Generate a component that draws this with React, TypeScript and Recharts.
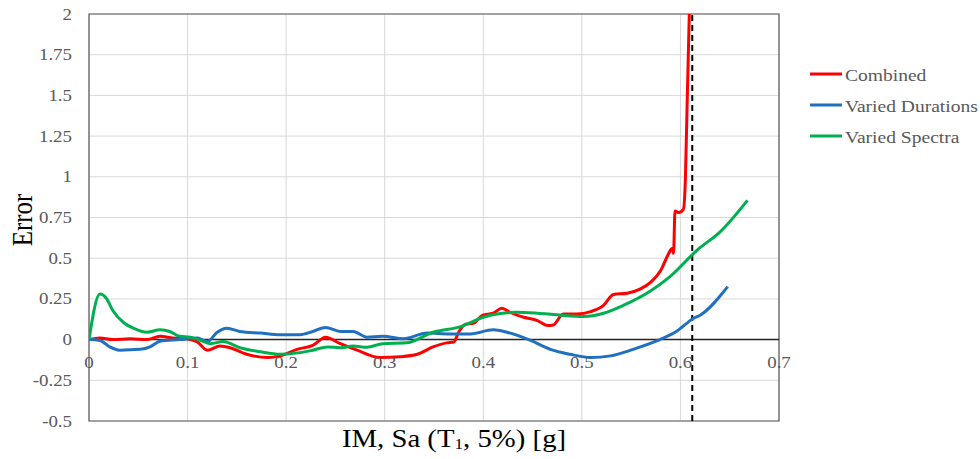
import {
  LineChart,
  Line,
  XAxis,
  YAxis,
  CartesianGrid,
  ReferenceLine,
  ReferenceArea,
} from "recharts";

// x values (IM, Sa in g) and error values
const combinedX = [0, 0.011, 0.024, 0.042, 0.059, 0.072, 0.085, 0.099, 0.11, 0.12, 0.133, 0.143, 0.16, 0.181, 0.194, 0.211, 0.227, 0.24, 0.255, 0.272, 0.295, 0.316, 0.333, 0.349, 0.363, 0.37, 0.375, 0.382, 0.39, 0.399, 0.41, 0.419, 0.427, 0.441, 0.455, 0.465, 0.471, 0.481, 0.495, 0.509, 0.522, 0.532, 0.546, 0.559, 0.57, 0.58, 0.588, 0.5915, 0.593, 0.5945, 0.598, 0.603, 0.605, 0.607, 0.609];
const combinedY = [0, 0.01, 0, 0.005, 0, 0.02, 0.01, 0.005, -0.015, -0.065, -0.04, -0.05, -0.09, -0.11, -0.1, -0.06, -0.035, 0.015, -0.025, -0.065, -0.11, -0.105, -0.09, -0.045, -0.02, -0.015, 0.045, 0.095, 0.1, 0.148, 0.162, 0.193, 0.168, 0.137, 0.117, 0.086, 0.09, 0.158, 0.158, 0.172, 0.21, 0.277, 0.285, 0.31, 0.353, 0.425, 0.528, 0.56, 0.53, 0.79, 0.78, 0.8, 0.98, 1.5, 2.0];

const durationsX = [0, 0.011, 0.021, 0.031, 0.052, 0.062, 0.072, 0.092, 0.11, 0.12, 0.13, 0.14, 0.153, 0.174, 0.194, 0.214, 0.227, 0.24, 0.255, 0.268, 0.282, 0.298, 0.319, 0.343, 0.366, 0.387, 0.41, 0.424, 0.448, 0.468, 0.488, 0.509, 0.529, 0.552, 0.577, 0.597, 0.613, 0.62, 0.648];
const durationsY = [0, -0.005, -0.045, -0.065, -0.06, -0.045, -0.01, 0, 0.01, -0.012, 0.045, 0.07, 0.05, 0.04, 0.03, 0.03, 0.05, 0.075, 0.05, 0.05, 0.015, 0.02, 0.005, 0.04, 0.035, 0.035, 0.06, 0.045, -0.005, -0.06, -0.09, -0.11, -0.1, -0.06, -0.005, 0.055, 0.13, 0.15, 0.325];

const spectraX = [0, 0.011, 0.018, 0.024, 0.035, 0.045, 0.059, 0.072, 0.082, 0.092, 0.103, 0.113, 0.123, 0.136, 0.153, 0.174, 0.194, 0.214, 0.227, 0.242, 0.255, 0.268, 0.282, 0.298, 0.322, 0.349, 0.377, 0.4, 0.417, 0.434, 0.455, 0.475, 0.502, 0.522, 0.542, 0.57, 0.59, 0.617, 0.64, 0.668];
const spectraY = [0, 0.28, 0.25, 0.18, 0.105, 0.07, 0.045, 0.06, 0.05, 0.02, 0.015, -0.005, -0.025, -0.012, -0.05, -0.075, -0.09, -0.08, -0.065, -0.045, -0.05, -0.04, -0.047, -0.025, -0.02, 0.045, 0.08, 0.137, 0.16, 0.168, 0.162, 0.152, 0.142, 0.162, 0.21, 0.3, 0.39, 0.55, 0.66, 0.855];

const xTicks = [0, 0.1, 0.2, 0.3, 0.4, 0.5, 0.6, 0.7];
const yTicks = [-0.5, -0.25, 0, 0.25, 0.5, 0.75, 1, 1.25, 1.5, 1.75, 2];
const limitX = 0.612;

const seriesNames = ["Combined", "Varied Durations", "Varied Spectra"];
const seriesColors = ["#ff0000", "#1f70c1", "#00b050"];

const toPoints = (xs: number[], ys: number[]) => xs.map((x, i) => ({ x, y: ys[i] }));

const FONT = "'Liberation Serif', 'Times New Roman', serif";
const CHART_W = 980;
const CHART_H = 459;
const PLOT_LEFT = 89;
const PLOT_RIGHT = 779;
const PLOT_TOP = 14;
const X_AXIS_H = 38;
const PLOT_BOTTOM = CHART_H - X_AXIS_H;
const Y_MIN = -0.5;
const Y_MAX = 2;
const ZERO_Y = PLOT_TOP + ((PLOT_BOTTOM - PLOT_TOP) * Y_MAX) / (Y_MAX - Y_MIN);
const STRETCH = 1.18;

const XTick = ({ x, payload }: any) => (
  <text
    transform={`translate(${x}, ${ZERO_Y + 28.5}) scale(${STRETCH}, 1)`}
    textAnchor="middle"
    style={{ fontFamily: FONT }}
    fontSize={16}
    fill="#595959"
  >
    {payload.value}
  </text>
);

const YTick = ({ y, payload }: any) => (
  <text
    transform={`translate(${PLOT_LEFT - 17}, ${y + 5.5}) scale(${STRETCH}, 1)`}
    textAnchor="end"
    style={{ fontFamily: FONT }}
    fontSize={16}
    fill="#595959"
  >
    {payload.value}
  </text>
);

const xTitle = () => (
  <text
    transform={`translate(454, 447) scale(1.15, 1)`}
    textAnchor="middle"
    style={{ fontFamily: FONT }}
    fontSize={25}
    fill="#000"
  >
    IM, Sa (T
    <tspan fontSize={15} dy={2}>1</tspan>
    <tspan dy={-2}>, 5%) [g]</tspan>
  </text>
);

const yTitle = () => (
  <text
    transform={`translate(32, 220) rotate(-90) scale(1, 1.15)`}
    textAnchor="middle"
    style={{ fontFamily: FONT }}
    fontSize={25}
    fill="#000"
  >
    Error
  </text>
);

const LegendBox = () => (
  <svg width={175} height={100} style={{ position: "absolute", left: 805, top: 55 }}>
    {seriesNames.map((name, i) => (
      <g key={name}>
        <line x1={5} x2={37} y1={19 + i * 31} y2={19 + i * 31} stroke={seriesColors[i]} strokeWidth={3} />
        <text
          transform={`translate(40, ${25.5 + i * 31}) scale(1.15, 1)`}
          style={{ fontFamily: FONT }}
          fontSize={17}
          fill="#595959"
        >
          {name}
        </text>
      </g>
    ))}
  </svg>
);

export default function App() {
  const lines = [
    toPoints(combinedX, combinedY),
    toPoints(durationsX, durationsY),
    toPoints(spectraX, spectraY),
  ];

  return (
    <div style={{ position: "absolute", left: 0, top: 0, width: CHART_W, height: CHART_H, background: "#fff" }}>
      <LineChart
        width={CHART_W}
        height={CHART_H}
        margin={{ top: PLOT_TOP, right: CHART_W - PLOT_RIGHT, bottom: 0, left: 0 }}
      >
        <CartesianGrid stroke="#d9d9d9" strokeWidth={1} />
        <XAxis
          type="number"
          dataKey="x"
          domain={[0, 0.7]}
          ticks={xTicks}
          height={X_AXIS_H}
          axisLine={false}
          tickLine={false}
          tick={<XTick />}
          interval={0}
          allowDataOverflow
          label={xTitle}
        />
        <YAxis
          type="number"
          dataKey="y"
          domain={[Y_MIN, Y_MAX]}
          ticks={yTicks}
          width={PLOT_LEFT}
          axisLine={false}
          tickLine={false}
          tick={<YTick />}
          interval={0}
          allowDataOverflow
          label={yTitle}
        />
        <ReferenceArea x1={0} x2={0.7} y1={Y_MIN} y2={Y_MAX} fill="none" stroke="#595959" strokeWidth={1.2} />
        <ReferenceLine y={0} stroke="#262626" strokeWidth={1.5} />
        <ReferenceLine x={limitX} stroke="#000" strokeWidth={2} strokeDasharray="6 4" />
        {lines.map((pts, i) => (
          <Line
            key={seriesNames[i]}
            data={pts}
            dataKey="y"
            name={seriesNames[i]}
            type="monotone"
            stroke={seriesColors[i]}
            strokeWidth={3}
            dot={false}
            isAnimationActive={false}
          />
        ))}
      </LineChart>
      <LegendBox />
    </div>
  );
}
